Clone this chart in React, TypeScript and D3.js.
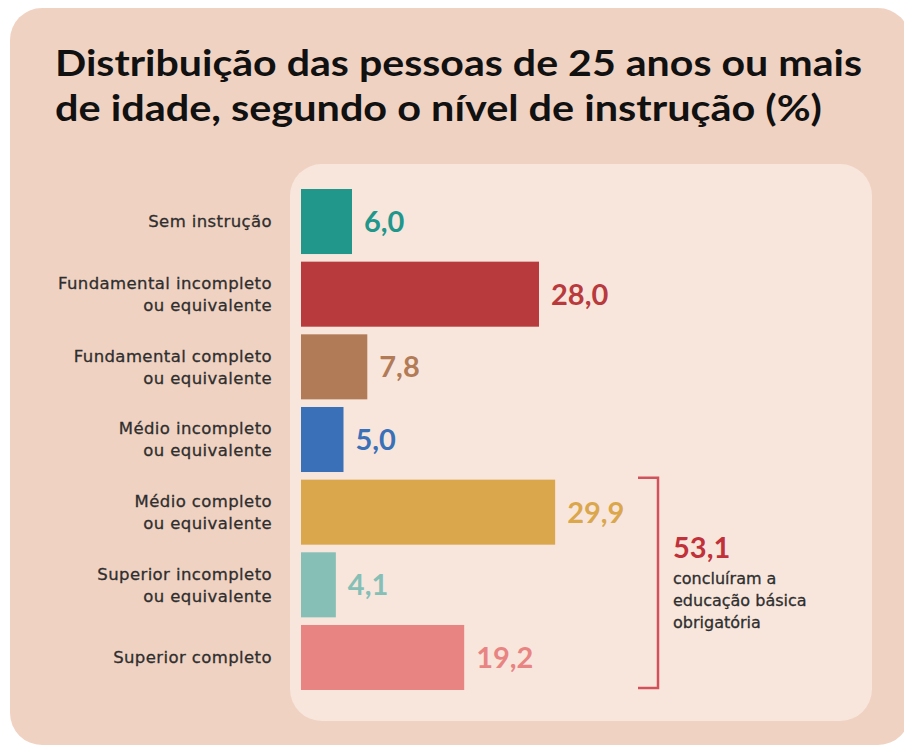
import React from "react";
import * as d3 from "d3";

const categories: string[][] = [
  ["Sem instrução"],
  ["Fundamental incompleto", "ou equivalente"],
  ["Fundamental completo", "ou equivalente"],
  ["Médio incompleto", "ou equivalente"],
  ["Médio completo", "ou equivalente"],
  ["Superior incompleto", "ou equivalente"],
  ["Superior completo"],
];
const values: number[] = [6.0, 28.0, 7.8, 5.0, 29.9, 4.1, 19.2];
const colors: string[] = ["#21978b", "#b83a3d", "#b27b57", "#3a70b7", "#dba74d", "#85bfb6", "#e88583"];
const titleLines: string[] = [
  "Distribuição das pessoas de 25 anos ou mais",
  "de idade, segundo o nível de instrução (%)",
];
const bracketFrom = 4;
const bracketTo = 6;
const bracketValue = 53.1;
const bracketText: string[] = ["concluíram a", "educação básica", "obrigatória"];

const fmt = (v: number) => v.toFixed(1).replace(".", ",");

export default function App() {
  const W = 904, H = 746;
  const x0 = 301;
  const x = d3.scaleLinear().domain([0, 30]).range([x0, x0 + 255]);
  const y = d3
    .scaleBand<number>()
    .domain(d3.range(categories.length))
    .range([189, 690])
    .paddingInner(0.105)
    .paddingOuter(0);
  const font = "Lato, 'Open Sans', sans-serif";
  const labelFont = "'DejaVu Sans', 'Open Sans', sans-serif";
  const bTop = (y(bracketFrom) ?? 0) - 2;
  const bBot = (y(bracketTo) ?? 0) + y.bandwidth() - 2;
  const bx = 658;
  return (
    <svg width={W} height={H} style={{ position: "absolute", left: 0, top: 0 }} fontFamily={font}>
      <rect x={0} y={0} width={W} height={H} fill="#ffffff" />
      <rect x={10} y={8} width={900} height={737} rx={32} fill="#f0d2c2" />
      <rect x={290} y={164} width={582} height={557} rx={32} fill="#f8e6dd" />
      {titleLines.map((t, i) => (
        <text
          key={i}
          x={55}
          y={76 + i * 45}
          fontSize={37}
          fontWeight={700}
          fill="#111"
          textLength={i === 0 ? 807 : 767}
          lengthAdjust="spacingAndGlyphs"
        >
          {t}
        </text>
      ))}
      {categories.map((lines, i) => {
        const yc = (y(i) ?? 0) + y.bandwidth() / 2;
        const n = lines.length;
        return (
          <g key={i}>
            <rect x={x(0)} y={y(i)} width={x(values[i]) - x(0)} height={y.bandwidth()} fill={colors[i]} />
            {lines.map((l, j) => (
              <text
                key={j}
                x={272}
                y={yc + (j - (n - 1) / 2) * 22}
                dy="0.35em"
                textAnchor="end"
                fontFamily={labelFont}
                fontSize={16.5}
                letterSpacing={0.4}
                fill="#2e2e2e"
                stroke="#2e2e2e"
                strokeWidth={0.3}
              >
                {l}
              </text>
            ))}
            <text
              x={x(values[i]) + 12}
              y={yc}
              dy="0.36em"
              fontSize={29}
              fontWeight={700}
              fill={colors[i]}
            >
              {fmt(values[i])}
            </text>
          </g>
        );
      })}
      <path
        d={`M${bx - 20},${bTop} H${bx} V${bBot} H${bx - 20}`}
        fill="none"
        stroke="#d2525c"
        strokeWidth={2.5}
      />
      <text x={673} y={558} fontSize={29} fontWeight={700} fill="#c0313a">
        {fmt(bracketValue)}
      </text>
      {bracketText.map((t, i) => (
        <text
          key={i}
          x={673}
          y={584 + i * 22}
          fontFamily={labelFont}
          fontSize={16}
          fill="#2e2e2e"
          stroke="#2e2e2e"
          strokeWidth={0.3}
        >
          {t}
        </text>
      ))}
    </svg>
  );
}
